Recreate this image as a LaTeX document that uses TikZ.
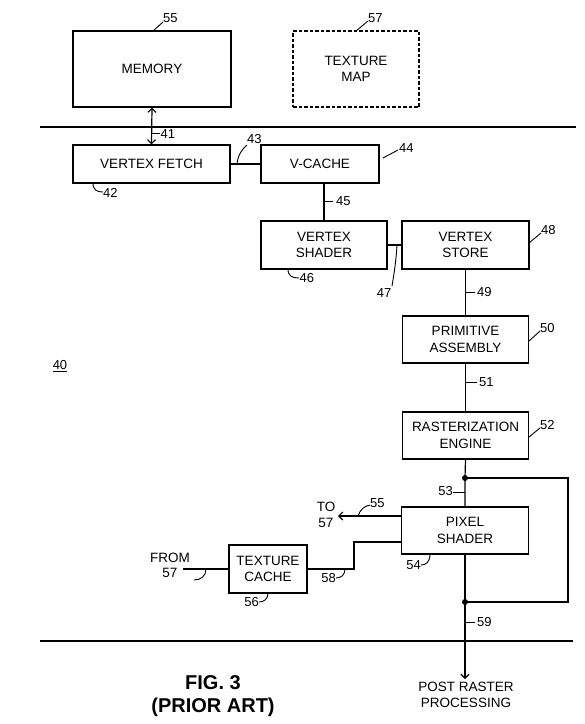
\documentclass[tikz,border=0pt]{standalone}
\usepackage{fontspec}
\setmainfont{Liberation Sans}
\usetikzlibrary{arrows.meta}
\begin{document}
\begin{tikzpicture}[x=1pt,y=-1pt,
  box/.style={draw, line width=1.2pt, inner sep=0pt, align=center,
    font=\fontsize{13.5}{16.5}\selectfont},
  lbl/.style={inner sep=0pt, font=\fontsize{13}{15}\selectfont},
  txt/.style={inner sep=0pt, align=center, font=\fontsize{13.5}{16}\selectfont},
  wire/.style={line width=1.2pt},
  lead/.style={line width=0.9pt},
  sep/.style={line width=1.3pt},
  tip/.style={-{Straight Barb[length=4pt,width=8pt,line width=1.1pt]}},
  dot/.style={circle, fill=black, inner sep=0pt, minimum size=6pt}
]
\useasboundingbox (0,0) rectangle (585,724);

% separator lines
\coordinate (s1a) at (40,127); \coordinate (s1b) at (576,127);
\coordinate (s2a) at (40,641); \coordinate (s2b) at (573,641);
\draw[sep] (s1a) -- (s1b);
\draw[sep] (s2a) -- (s2b);

% boxes
\node[box, minimum width=158pt, minimum height=76pt] (mem) at (152,69) {MEMORY};
\node[box, dash pattern=on 3.5pt off 2pt, minimum width=126pt, minimum height=76pt] (tmap) at (356,69) {TEXTURE\\MAP};
\node[box, minimum width=157pt, minimum height=38pt] (vf) at (151.5,164) {VERTEX FETCH};
\node[box, minimum width=118pt, minimum height=38pt] (vc) at (320,164) {V-CACHE};
\node[box, minimum width=126pt, minimum height=48pt] (vs) at (324,245) {VERTEX\\SHADER};
\node[box, minimum width=127pt, minimum height=48pt] (vst) at (465.5,245) {VERTEX\\STORE};
\node[box, minimum width=126pt, minimum height=47pt] (pa) at (465.5,339.5) {PRIMITIVE\\ASSEMBLY};
\node[box, minimum width=126pt, minimum height=47pt] (re) at (465.5,435.5) {RASTERIZATION\\ENGINE};
\node[box, minimum width=127pt, minimum height=47pt] (ps) at (465,530.5) {PIXEL\\SHADER};
\node[box, minimum width=78pt, minimum height=48pt] (tc) at (268,569) {TEXTURE\\CACHE};

% connectors
\draw[wire, {Straight Barb[length=4pt,width=8pt,line width=1.1pt]}-{Straight Barb[length=4pt,width=8pt,line width=1.1pt]}] (mem.south) -- (vf.north);
\draw[wire] (vf.east) -- (vc.west);
\draw[wire] (vs.north) -- (vs.north |- vc.south);
\draw[wire] (vs.east) -- (vst.west);
\draw[wire] (vst.south) -- (vst.south -| pa.north) -- (pa.north);
\draw[wire] (pa.south) -- (re.north);

\node[dot] (d1) at (465,478) {};
\node[dot] (d2) at (465,602) {};
\coordinate (lr1) at (568,478);
\coordinate (lr2) at (568,602);
\draw[wire] (re.south) -- (d1.center) -- (ps.north);
\draw[wire] (d1.center) -- (lr1) -- (lr2) -- (d2.center);
\draw[wire] (ps.south) -- (d2.center);
\coordinate (post) at (465,679);
\draw[wire, tip] (d2.center) -- (post);

\coordinate (to57) at (338,516);
\draw[wire, tip] (ps.west |- to57) -- (to57);
\coordinate (tcj1) at (354,569);
\coordinate (tcj2) at (354,542);
\draw[wire] (tc.east) -- (tcj1) -- (tcj2) -- (ps.west |- tcj2);
\coordinate (from57) at (183,569);
\draw[wire] (from57) -- (tc.west);

% texts
\node[txt] (posttxt) at (466,694.5) {POST RASTER\\PROCESSING};
\node[txt] (totxt) at (326,515) {TO\\57};
\node[txt, font=\fontsize{13.5}{15}\selectfont] (fromtxt) at (170,565.5) {FROM\\57};
\node[inner sep=0pt, align=center, font=\bfseries\fontsize{20}{23}\selectfont] (fig) at (213,696.5) {FIG. 3\\(PRIOR ART)};
\node[lbl] (l40) at (60,366) {\underline{40}};

% reference labels
\node[lbl, anchor=west] (l55a) at (163,18) {55};
\draw[lead] (153,31) -- (163,22);
\node[lbl, anchor=west] (l57a) at (368,18) {57};
\draw[lead] (356,31) -- (368,21);
\draw[lead] (152,133.5) -- (160,133.5);
\node[lbl, anchor=west] (l41) at (160.5,134.5) {41};
\draw[lead] (93,183) .. controls (93,190) and (97,192) .. (103,192);
\node[lbl, anchor=west] (l42) at (103,192.5) {42};
\draw[lead] (237,164) .. controls (238,155) and (242,149) .. (247,145);
\node[lbl, anchor=west] (l43) at (247,139) {43};
\draw[lead] (383,158) -- (398,150);
\node[lbl, anchor=west] (l44) at (399,148) {44};
\draw[lead] (324,201) -- (333,201);
\node[lbl, anchor=west] (l45) at (336,201) {45};
\draw[lead] (288,269) .. controls (288,276) and (292,278) .. (299,278);
\node[lbl, anchor=west] (l46) at (299.5,278.5) {46};
\draw[lead] (397,245) .. controls (396,262) and (394,274) .. (392,286);
\node[lbl] (l47) at (384,293) {47};
\draw[lead] (529,243) -- (541,233);
\node[lbl, anchor=west] (l48) at (541,230) {48};
\draw[lead] (466,292) -- (475,292);
\node[lbl, anchor=west] (l49) at (477,292) {49};
\draw[lead] (529,341) -- (540,331);
\node[lbl, anchor=west] (l50) at (540,328.5) {50};
\draw[lead] (465,382) -- (477,382);
\node[lbl, anchor=west] (l51) at (479,382) {51};
\draw[lead] (529,437) -- (540,428);
\node[lbl, anchor=west] (l52) at (540,425) {52};
\draw[lead] (453,492.5) -- (465,492.5);
\node[lbl, anchor=east] (l53) at (453,491.5) {53};
\draw[lead] (358,516) .. controls (360,510) and (364,506) .. (370,505);
\node[lbl, anchor=west] (l55b) at (370,503) {55};
\draw[lead] (430,554) .. controls (430,562) and (426,565) .. (421,565);
\node[lbl, anchor=east] (l54) at (421,565.5) {54};
\draw[lead] (345,569) .. controls (345,575) and (341,578) .. (336,578);
\node[lbl, anchor=east] (l58) at (336,578.5) {58};
\draw[lead] (268,593) .. controls (268,599) and (264,602) .. (259,602);
\node[lbl, anchor=east] (l56) at (259,602.5) {56};
\draw[lead] (206,569) .. controls (206,576) and (201,580) .. (194,580);
\draw[lead] (466,622) -- (475,622);
\node[lbl, anchor=west] (l59) at (477,622) {59};
\end{tikzpicture}
\end{document}
